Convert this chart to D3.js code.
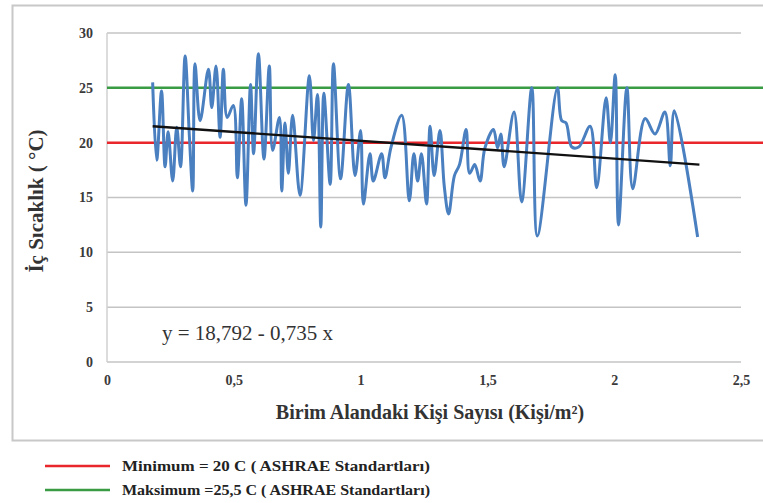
<!DOCTYPE html>
<html>
<head>
<meta charset="utf-8">
<script src="https://cdn.jsdelivr.net/npm/d3@7"></script>
<style>
  body { margin: 0; background: #fff; }
  text { font-family: "Liberation Serif", "Times New Roman", serif; }
</style>
</head>
<body>
<svg id="viz"></svg>
<script>
var width = 763;
var height = 503;

// measured indoor temperature vs occupants per m2
var tempX = [0.18, 0.196, 0.215, 0.229, 0.241, 0.259, 0.275, 0.29, 0.308, 0.325, 0.338, 0.347, 0.367, 0.40, 0.413, 0.43, 0.446, 0.459, 0.474, 0.498,
    0.514, 0.531, 0.548, 0.566, 0.578, 0.597, 0.619, 0.64, 0.653, 0.68, 0.689, 0.702, 0.715, 0.732, 0.761, 0.798, 0.814, 0.83, 0.843, 0.855,
    0.88, 0.893, 0.921, 0.952, 0.978, 1.0, 1.011, 1.037, 1.05, 1.083, 1.096, 1.12, 1.162, 1.192, 1.21, 1.225, 1.24, 1.26, 1.274, 1.29,
    1.313, 1.33, 1.347, 1.37, 1.39, 1.416, 1.43, 1.45, 1.471, 1.49, 1.524, 1.54, 1.553, 1.566, 1.605, 1.635, 1.675, 1.697, 1.776, 1.793,
    1.81, 1.833, 1.86, 1.905, 1.931, 1.968, 1.985, 2.004, 2.017, 2.05, 2.073, 2.122, 2.161, 2.2, 2.221, 2.237, 2.329];
var tempY = [25.5, 18.4, 24.7, 17.8, 21.0, 16.5, 21.4, 17.8, 27.9, 20.5, 15.6, 27.2, 22.0, 26.7, 23.2, 27.0, 20.5, 26.7, 22.3, 23.4,
    16.8, 24.0, 14.3, 25.3, 19.0, 28.1, 18.5, 27.0, 19.3, 22.3, 15.6, 21.8, 17.2, 22.5, 15.2, 26.1, 20.2, 24.4, 12.3, 24.5,
    16.2, 27.2, 16.7, 25.3, 17.0, 21.1, 14.4, 19.0, 16.5, 19.0, 16.8, 19.6, 22.5, 14.7, 19.0, 16.5, 19.0, 14.4, 21.5, 17.0,
    21.1, 16.0, 13.5, 17.0, 18.0, 21.2, 17.2, 18.0, 16.5, 19.5, 21.2, 19.5, 20.8, 17.8, 22.8, 14.6, 25.0, 11.5, 25.0, 22.0,
    21.8, 19.6, 19.6, 21.5, 15.9, 24.1, 20.0, 26.2, 12.5, 25.0, 15.8, 22.2, 20.8, 22.8, 17.9, 22.9, 11.4];

var trendX = [0.18, 2.336];
var trendY = [21.5, 18.0];

var minLimit = 20;
var maxLimit = 25;

var xTicks = [0, 0.5, 1, 1.5, 2, 2.5];
var yTicks = [0, 5, 10, 15, 20, 25, 30];

var legendItems = [
    { label: "Minimum = 20 C ( ASHRAE Standartları)", color: "#e8262b" },
    { label: "Maksimum =25,5 C ( ASHRAE Standartları)", color: "#3a9b45" }
];

var svg = d3.select("#viz").attr("width", width).attr("height", height);

var plotLeft = 107, plotRight = 741, plotTop = 33, plotBottom = 362;

var x = d3.scaleLinear().domain([0, 2.5]).range([plotLeft, plotRight]);
var y = d3.scaleLinear().domain([0, 30]).range([plotBottom, plotTop]);

// outer chart frame
svg.append("rect")
    .attr("x", 12.5).attr("y", 5.5)
    .attr("width", 780).attr("height", 435)
    .attr("fill", "none")
    .attr("stroke", "#c8c8c8")
    .attr("stroke-width", 2);

// gridlines
svg.append("g")
    .selectAll("line")
    .data(yTicks)
    .enter().append("line")
        .attr("x1", plotLeft)
        .attr("x2", plotRight)
        .attr("y1", function (d) { return y(d); })
        .attr("y2", function (d) { return y(d); })
        .attr("stroke", "#c4c4c4")
        .attr("stroke-width", 1.5);

svg.append("line")
    .attr("x1", plotLeft).attr("x2", plotLeft)
    .attr("y1", plotTop).attr("y2", plotBottom)
    .attr("stroke", "#d0d0d0")
    .attr("stroke-width", 1.5);

// tick labels
var yAxis = svg.append("g")
    .attr("transform", "translate(" + (plotLeft - 14) + ",0)")
    .call(d3.axisLeft(y).tickValues(yTicks).tickSize(0).tickPadding(0));
var xAxis = svg.append("g")
    .attr("transform", "translate(0," + (plotBottom + 13) + ")")
    .call(d3.axisBottom(x).tickValues(xTicks).tickSize(0).tickPadding(0)
        .tickFormat(function (d) { return String(d).replace(".", ","); }));

[yAxis, xAxis].forEach(function (a) {
    a.select(".domain").remove();
    a.selectAll("text")
        .attr("font-family", "Liberation Sans, Arial, sans-serif")
        .attr("font-weight", "bold")
        .attr("font-size", 14)
        .attr("fill", "#3a3a3a");
});

// limit lines
svg.append("line")
    .attr("x1", plotLeft).attr("x2", width)
    .attr("y1", y(maxLimit)).attr("y2", y(maxLimit))
    .attr("stroke", legendItems[1].color)
    .attr("stroke-width", 2.5);
svg.append("line")
    .attr("x1", plotLeft).attr("x2", width)
    .attr("y1", y(minLimit)).attr("y2", y(minLimit))
    .attr("stroke", legendItems[0].color)
    .attr("stroke-width", 2.5);

// temperature series
var series = tempX.map(function (d, i) { return [d, tempY[i]]; });
var line = d3.line()
    .x(function (d) { return x(d[0]); })
    .y(function (d) { return y(d[1]); })
    .curve(d3.curveCatmullRom.alpha(0.5));

svg.append("path")
    .datum(series)
    .attr("d", line)
    .attr("fill", "none")
    .attr("stroke", "#4a7fc0")
    .attr("stroke-width", 3)
    .attr("stroke-linejoin", "round");

// trend line
svg.append("path")
    .datum(trendX.map(function (d, i) { return [d, trendY[i]]; }))
    .attr("d", d3.line().x(function (d) { return x(d[0]); }).y(function (d) { return y(d[1]); }))
    .attr("stroke", "#111")
    .attr("stroke-width", 2.4);

svg.append("text")
    .attr("x", 162).attr("y", 340)
    .attr("font-size", 21)
    .attr("fill", "#333")
    .text("y = 18,792 - 0,735 x");

// axis titles
svg.append("text")
    .attr("transform", "translate(43,201) rotate(-90)")
    .attr("text-anchor", "middle")
    .attr("font-size", 21)
    .attr("font-weight", "bold")
    .attr("fill", "#333")
    .text("İç Sıcaklık ( °C)");

svg.append("text")
    .attr("x", 430).attr("y", 419)
    .attr("text-anchor", "middle")
    .attr("font-size", 20)
    .attr("font-weight", "bold")
    .attr("fill", "#333")
    .text("Birim Alandaki Kişi Sayısı (Kişi/m²)");

// legend below the frame
var legend = svg.append("g")
    .selectAll("g")
    .data(legendItems)
    .enter().append("g")
        .attr("transform", function (d, i) { return "translate(45," + (466 + i * 24) + ")"; });

legend.append("line")
    .attr("x1", 0).attr("x2", 65)
    .attr("stroke", function (d) { return d.color; })
    .attr("stroke-width", 2.5);

legend.append("text")
    .attr("x", 77).attr("dy", "0.35em")
    .attr("font-size", 15)
    .attr("font-weight", "bold")
    .attr("fill", "#222")
    .attr("textLength", 308)
    .attr("lengthAdjust", "spacingAndGlyphs")
    .text(function (d) { return d.label; });
</script>
</body>
</html>
